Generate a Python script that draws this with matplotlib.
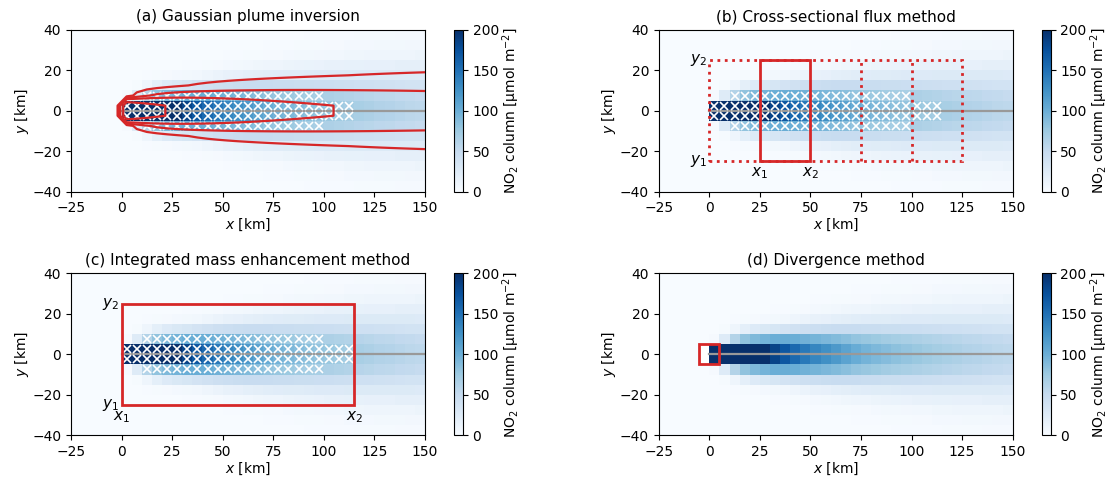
import numpy as np
import matplotlib
matplotlib.use("Agg")
import matplotlib.pyplot as plt
from matplotlib.patches import Rectangle
from math import erf, sqrt

# ---------------- data ----------------
# 5 km grid: x from -25 to 150 km, y from -40 to 40 km
cell_km = 5.0
x_min, x_max = -25.0, 150.0
y_min, y_max = -40.0, 40.0

# NO2 column [umol m-2] in the cells downwind of the source (x = 0..150 km),
# one list per distance from the plume axis (rows are symmetric in y)
row_0_5 = [600, 450, 360, 300, 255, 215, 185, 170, 156, 144, 134, 126, 118, 110, 102,
           96, 91, 87, 83, 80, 77, 74, 71, 68, 66, 63, 61, 59, 57, 55]
row_5_10 = [3, 25, 62, 82, 90, 96, 100, 101, 100, 97, 95, 92, 89, 85, 80,
            78, 75, 72, 70, 68, 66, 64, 62, 60, 58, 56, 55, 53, 52, 50]
row_10_15 = [0, 2, 10, 19, 26, 30, 33, 37, 40, 43, 45, 47, 48, 48, 48,
             47, 47, 46, 46, 45, 45, 44, 43, 42, 42, 41, 40, 39, 38, 38]
row_15_20 = [0, 0, 1, 2, 3, 4, 5, 7, 10, 12, 15, 17, 19, 21, 22,
             23, 24, 24, 25, 26, 26, 26, 27, 27, 27, 27, 27, 27, 27, 26]
row_20_25 = [0, 0, 0, 0, 0, 0, 1, 1, 2, 3, 4, 5, 7, 8, 9,
             10, 11, 12, 13, 14, 15, 15, 16, 16, 17, 17, 17, 18, 18, 18]
row_25_30 = [0, 0, 0, 0, 0, 0, 0, 0, 0, 0, 1, 1, 2, 2, 3,
             3, 4, 5, 5, 6, 7, 7, 8, 8, 9, 9, 10, 10, 10, 11]
row_30_35 = [0, 0, 0, 0, 0, 0, 0, 0, 0, 0, 0, 0, 0, 0, 1,
             1, 1, 2, 2, 2, 3, 3, 4, 4, 4, 5, 5, 5, 6, 6]
row_35_40 = [0, 0, 0, 0, 0, 0, 0, 0, 0, 0, 0, 0, 0, 0, 0,
             0, 0, 0, 1, 1, 1, 1, 1, 2, 2, 2, 2, 3, 3, 3]
rows_by_distance = [row_0_5, row_5_10, row_10_15, row_15_20,
                    row_20_25, row_25_30, row_30_35, row_35_40]

# observation cells marked with crosses: (row distance index, first col, last col)
# column index counted in downwind cells (0 -> x = 0..5 km)
cross_cells = [(0, 0, 22), (1, 2, 19)]

# fitted Gaussian plume (panel a): flux / wind speed, sigma_y = a * x^b, contour levels
plume_F = 2500.0
plume_a = 1.48
plume_b = 0.42
plume_levels = [25, 59, 92, 162]

# cross-sectional flux boxes (panel b)
csf_edges = [0, 25, 50, 75, 100, 125]
csf_selected = (25, 50)
box_y = (-25, 25)
# integrated mass enhancement box (panel c)
ime_x = (0, 115)
# divergence source box (panel d)
div_box = (-5, 5)

titles = ["(a) Gaussian plume inversion", "(b) Cross-sectional flux method",
          "(c) Integrated mass enhancement method", "(d) Divergence method"]
cbar_label = "NO$_2$ column [µmol m$^{-2}$]"
x_ticks = [-25, 0, 25, 50, 75, 100, 125, 150]
y_ticks = [-40, -20, 0, 20, 40]

# ---------------- build grid ----------------
x_edges = np.arange(x_min, x_max + cell_km / 2, cell_km)
y_edges = np.arange(y_min, y_max + cell_km / 2, cell_km)
xc = 0.5 * (x_edges[:-1] + x_edges[1:])
yc = 0.5 * (y_edges[:-1] + y_edges[1:])
nx, ny = len(xc), len(yc)
n_up = int(round((0 - x_min) / cell_km))
mid = ny // 2

field = np.zeros((ny, nx))
for k, r in enumerate(rows_by_distance):
    field[mid + k, n_up:] = r
    field[mid - 1 - k, n_up:] = r

# fitted plume model (cell averaged across wind), extended slightly past the axes edge
xm = np.arange(x_min + cell_km / 2, x_max + 3 * cell_km, cell_km)
Phi = np.frompyfunc(lambda z: 0.5 * (1.0 + erf(z / sqrt(2.0))), 1, 1)
model = np.zeros((ny, len(xm)))
for i, x in enumerate(xm):
    if x <= 0:
        continue
    s = plume_a * x ** plume_b
    lo = (yc - cell_km / 2) / s
    hi = (yc + cell_km / 2) / s
    model[:, i] = (Phi(hi).astype(float) - Phi(lo).astype(float)) * plume_F / cell_km

# ---------------- figure ----------------
red = "#d62728"
gray = "#999999"
fig = plt.figure(figsize=(11.1, 4.8), dpi=100)
W, H = 1110.0, 480.0
ax_w, ax_h = 354.0 / W, 161.8 / H
lefts = [71.0 / W, 658.7 / W]
bottoms = [(H - 191.6) / H, (H - 435.2) / H]
cb_off = 383.3 / W
cb_w = 8.5 / W

positions = [(lefts[0], bottoms[0]), (lefts[1], bottoms[0]),
             (lefts[0], bottoms[1]), (lefts[1], bottoms[1])]
axes = []
for p, (l, b) in enumerate(positions):
    ax = fig.add_axes([l, b, ax_w, ax_h])
    data = field.copy()
    if p == 3:
        src = (xc > div_box[0]) & (xc < 0)
        data[mid - 1:mid + 1, src] = np.nan
    mesh = ax.pcolormesh(x_edges, y_edges, data, cmap="Blues", vmin=0, vmax=200,
                         shading="flat", zorder=1)
    ax.plot([0, x_max], [0, 0], color=gray, lw=1.6, zorder=2)
    if p < 3:
        for kd, c0, c1 in cross_cells:
            xs = xc[n_up + c0:n_up + c1 + 1]
            for yv in (yc[mid + kd], yc[mid - 1 - kd]):
                ax.plot(xs, np.full_like(xs, yv), ls="none", marker="x", ms=5.5,
                        mew=1.2, color="white", zorder=3)
    ax.set_xlim(x_min, x_max)
    ax.set_ylim(y_min, y_max)
    ax.set_aspect("equal", adjustable="box")
    ax.set_xticks(x_ticks)
    ax.set_yticks(y_ticks)
    ax.tick_params(labelsize=10)
    ax.set_xlabel("$x$ [km]", fontsize=10, labelpad=1)
    ax.set_ylabel("$y$ [km]", fontsize=10, labelpad=1)
    ax.set_title(titles[p], fontsize=11, pad=6)
    cax = fig.add_axes([l + cb_off, b, cb_w, ax_h])
    cb = fig.colorbar(mesh, cax=cax)
    cb.set_ticks([0, 50, 100, 150, 200])
    cb.ax.tick_params(labelsize=10)
    cb.set_label(cbar_label, fontsize=10, labelpad=1)
    axes.append(ax)

# (a) fitted plume contours
axes[0].contour(xm, yc, model, levels=plume_levels, colors=red, linewidths=1.6, zorder=4)

# (b) cross-sectional flux boxes
ax = axes[1]
ax.add_patch(Rectangle((csf_edges[0], box_y[0]), csf_edges[-1] - csf_edges[0],
                       box_y[1] - box_y[0], fill=False, ec=red, lw=2, ls=":", zorder=4))
for xe in csf_edges[1:-1]:
    if xe in csf_selected:
        continue
    ax.plot([xe, xe], box_y, color=red, lw=2, ls=":", zorder=4)
ax.add_patch(Rectangle((csf_selected[0], box_y[0]), csf_selected[1] - csf_selected[0],
                       box_y[1] - box_y[0], fill=False, ec=red, lw=2, zorder=5))
ax.text(csf_edges[0] - 1, box_y[1], "$y_2$", ha="right", va="center", fontsize=11)
ax.text(csf_edges[0] - 1, box_y[0], "$y_1$", ha="right", va="center", fontsize=11)
ax.text(csf_selected[0], box_y[0] - 2, "$x_1$", ha="center", va="top", fontsize=11)
ax.text(csf_selected[1], box_y[0] - 2, "$x_2$", ha="center", va="top", fontsize=11)

# (c) IME box
ax = axes[2]
ax.add_patch(Rectangle((ime_x[0], box_y[0]), ime_x[1] - ime_x[0], box_y[1] - box_y[0],
                       fill=False, ec=red, lw=2, zorder=5))
ax.text(ime_x[0] - 1, box_y[1], "$y_2$", ha="right", va="center", fontsize=11)
ax.text(ime_x[0] - 1, box_y[0], "$y_1$", ha="right", va="center", fontsize=11)
ax.text(ime_x[0], box_y[0] - 2, "$x_1$", ha="center", va="top", fontsize=11)
ax.text(ime_x[1], box_y[0] - 2, "$x_2$", ha="center", va="top", fontsize=11)

# (d) divergence source box
ax = axes[3]
ax.add_patch(Rectangle((div_box[0], div_box[0]), div_box[1] - div_box[0],
                       div_box[1] - div_box[0], fill=False, ec=red, lw=2, zorder=5))

fig.savefig("out.png", dpi=100)
